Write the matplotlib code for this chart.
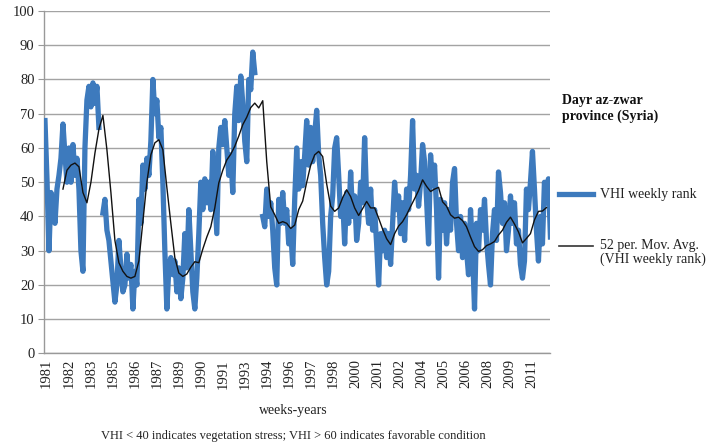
import numpy as np
import matplotlib

matplotlib.use("Agg")
import matplotlib.pyplot as plt

# VHI weekly rank (one value per ~2 px step), NaN = missing weeks
vhi = [
    68, 51, 30, 47, 44, 38, 48, 52, 57, 67,
    58, 50, 60, 50, 61, 52, 57, 48, 30, 24,
    60, 74, 78, 72, 79, 73, 78, 66, np.nan, 41,
    45, 36, 33, 27, 21, 15, 20, 33, 25, 18,
    20, 29, 22, 26, 13, 24, 20, 45, 38, 55,
    48, 57, 52, 62, 80, 70, 74, 63, 66, 50,
    30, 13, 25, 28, 23, 27, 18, 25, 16, 22,
    35, 25, 42, 30, 18, 13, 22, 35, 50, 42,
    51, 44, 50, 42, 59, 47, 35, 60, 66, 61,
    68, 60, 52, 58, 47, 70, 78, 68, 81, 73,
    62, 56, 80, 77, 88, 82, np.nan, np.nan, np.nan, 40,
    37, 48, 40, 44, 36, 25, 20, 45, 38, 47,
    38, 42, 32, 36, 26, 45, 60, 48, 56, 49,
    58, 68, 55, 66, 56, 64, 71, 58, 52, 38,
    28, 20, 24, 40, 46, 60, 63, 52, 40, 45,
    32, 47, 38, 53, 40, 46, 33, 38, 50, 44,
    63, 45, 38, 48, 36, 42, 32, 20, 35, 30,
    36, 28, 35, 26, 38, 50, 42, 46, 35, 44,
    33, 48, 42, 52, 68, 48, 52, 43, 50, 61,
    56, 45, 32, 58, 49, 55, 42, 22, 45, 36,
    44, 32, 42, 36, 50, 54, 38, 30, 40, 28,
    38, 30, 23, 42, 30, 13, 38, 30, 42, 36,
    45, 33, 26, 20, 35, 42, 33, 53, 47, 38,
    44, 30, 36, 46, 38, 44, 32, 36, 26, 22,
    27, 48, 42, 50, 59, 48, 36, 27, 40, 32,
    50, 44, 51, 34,
]

# 52 per. moving average, read every second step starting at step 9
ma = [
    48.0, 53.5, 55.0, 55.6, 54.5, 47.0, 44.0, 50.0, 58.5, 65.5,
    69.5, 59.5, 47.0, 33.0, 26.5, 24.0, 22.5, 22.0, 22.5, 27.0,
    38.5, 50.0, 58.0, 61.5, 62.4, 59.5, 48.5, 38.0, 28.0, 23.5,
    22.5, 23.2, 25.2, 26.8, 26.5, 30.5, 34.0, 37.0, 42.5, 49.8,
    53.5, 56.5, 58.2, 60.5, 63.5, 66.8, 69.0, 71.8, 73.1, 71.7,
    73.8, 56.0, 42.8, 40.5, 38.0, 38.5, 38.0, 36.5, 37.5, 42.0,
    44.5, 50.0, 55.0, 58.0, 59.0, 57.5, 49.5, 43.0, 41.5, 42.5,
    45.5, 47.8, 45.8, 42.5, 40.3, 42.3, 44.4, 42.5, 42.5, 39.5,
    36.3, 33.5, 31.8, 35.0, 37.2, 38.5, 40.5, 42.9, 45.2, 47.6,
    50.7, 48.8, 47.3, 48.0, 48.5, 44.3, 43.0, 40.5, 39.5, 39.8,
    38.8, 37.0, 34.0, 31.2, 29.8, 30.3, 31.5, 32.0, 32.7, 34.6,
    36.0, 38.3, 39.8, 37.8, 35.5, 32.3, 33.6, 35.0, 39.0, 41.5,
    41.6, 42.6,
]

year_labels = ["1981", "1982", "1983", "1985", "1986", "1987", "1989", "1990",
               "1991", "1993", "1994", "1996", "1997", "1998", "2000", "2001",
               "2002", "2004", "2005", "2006", "2008", "2009", "2011"]

SERIF = ["Liberation Serif", "DejaVu Serif"]
BLUE = "#3d7abd"

x_vhi = np.arange(len(vhi))
x_ma = 9 + 2 * np.arange(len(ma))
label_step = 11.05
x_ticks = 0.85 + label_step * np.arange(len(year_labels))

fig = plt.figure(figsize=(7.2, 4.46), dpi=100)
ax = fig.add_axes([0.0615, 0.2074, 0.703, 0.768])

ax.plot(x_vhi, vhi, color=BLUE, linewidth=3.8, solid_joinstyle="round", zorder=3)
ax.plot(x_ma, ma, color="#111111", linewidth=1.0, zorder=4)

ax.set_xlim(-0.35, 253)
ax.set_ylim(0, 100)
ax.set_yticks(range(0, 101, 10))
ax.set_xticks(x_ticks)
ax.set_xticklabels(year_labels, rotation=90, family=SERIF, fontsize=10.5, color="#222222")
for lab in ax.get_yticklabels():
    lab.set_family(SERIF)
    lab.set_fontsize(10.5)
    lab.set_color("#222222")

ax.grid(axis="y", color="#a3a3a3", linewidth=1.0, zorder=0)
ax.set_axisbelow(True)
for side in ("top", "right"):
    ax.spines[side].set_visible(False)
for side in ("left", "bottom"):
    ax.spines[side].set_color("#999999")
    ax.spines[side].set_linewidth(1.0)
ax.tick_params(axis="y", length=4, color="#999999", pad=3)
ax.tick_params(axis="x", length=0, pad=4)

fig.text(0.407, 0.080, "weeks-years", family=SERIF, fontsize=10, ha="center", va="center", color="#222222")
fig.text(0.407, 0.022, "VHI < 40 indicates vegetation stress; VHI > 60 indicates favorable condition",
         family=SERIF, fontsize=9, ha="center", va="center", color="#222222")

fig.text(0.781, 0.757, "Dayr az-zwar\nprovince (Syria)", family=SERIF, fontsize=10,
         fontweight="bold", ha="left", va="center", linespacing=1.3, color="#111111")

# legend drawn by hand to match the Excel layout
fig.lines.append(plt.Line2D([0.776, 0.824], [0.565, 0.565], color=BLUE, linewidth=3.8,
                            transform=fig.transFigure))
fig.text(0.834, 0.565, "VHI weekly rank", family=SERIF, fontsize=10, ha="left", va="center",
         color="#222222")
fig.lines.append(plt.Line2D([0.776, 0.824], [0.449, 0.449], color="#333333", linewidth=1.2,
                            transform=fig.transFigure))
fig.text(0.834, 0.433, "52 per. Mov. Avg.\n(VHI weekly rank)", family=SERIF, fontsize=10,
         ha="left", va="center", linespacing=1.05, color="#222222")

fig.savefig("out.png", dpi=100)
